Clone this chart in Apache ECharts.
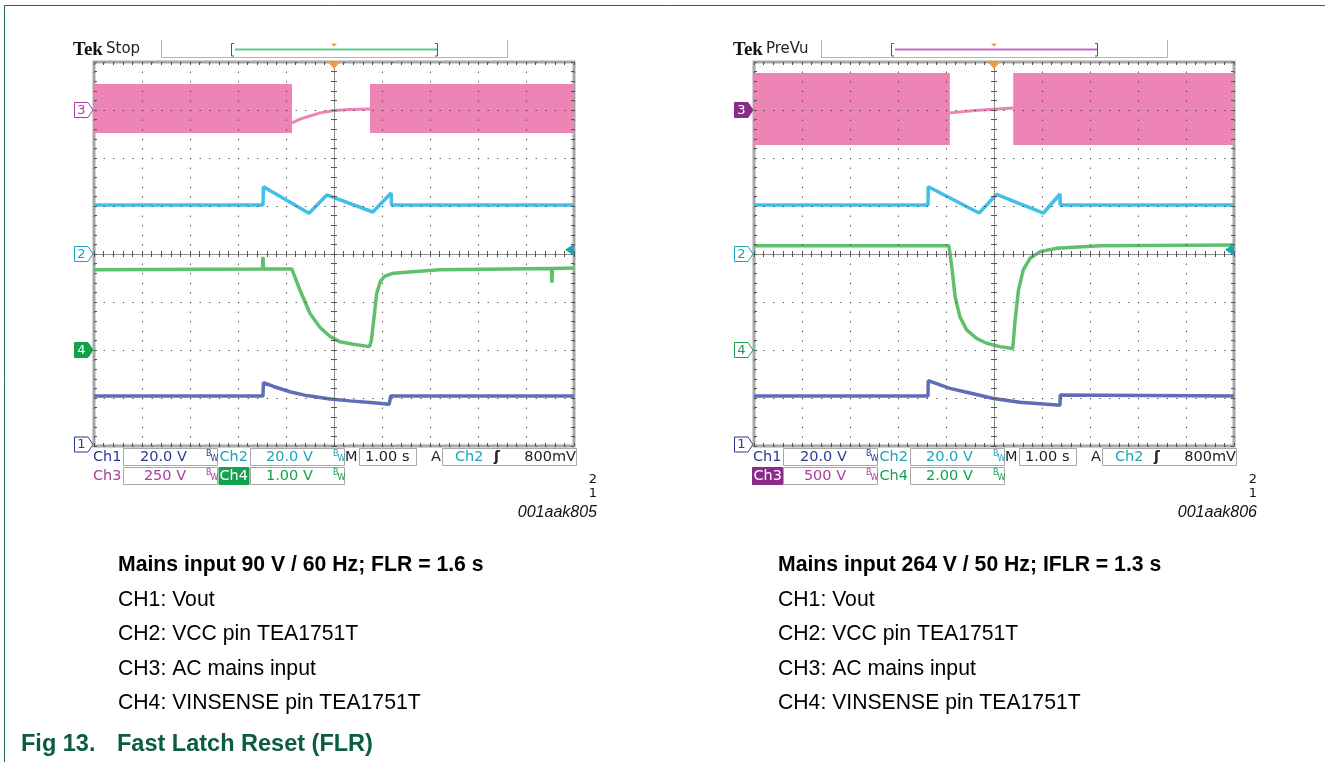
<!DOCTYPE html>
<html><head><meta charset="utf-8">
<script src="https://cdn.jsdelivr.net/npm/echarts@6/dist/echarts.min.js"></script>
<style>html,body{margin:0;padding:0;background:#fff}#c{width:1325px;height:762px}</style>
</head><body><div id="c"></div>
<script>
// ===== DATA: time in s relative to trigger (1 s/div), amplitude in divisions =====
const timeRange = [-5, 5];
const divRange = [-4, 4];
// Scope A : mains 90 V / 60 Hz
const A_ch3BandSpans = [[-5, -0.875], [0.75, 5]];
const A_ch3BandLevels = [2.52, 3.54];
const A_ch3Gap = [[-0.875,2.73],[-0.71,2.81],[-0.5,2.875],[-0.29,2.94],[0,2.99],[0.33,3.01],[0.75,3.02]];
const A_ch2 = [[-5,1.02],[-1.48,1.02],[-1.47,1.40],[-0.52,0.85],[-0.15,1.23],[0.81,0.875],[1.19,1.27],[1.20,1.02],[5,1.02]];
const A_ch4 = [[-5,-0.33],[-1.49,-0.31],[-1.48,-0.06],[-1.47,-0.31],[-0.88,-0.31],[-0.71,-0.75],[-0.5,-1.24],[-0.29,-1.53],[-0.08,-1.72],[0.125,-1.83],[0.40,-1.88],[0.74,-1.93],[0.78,-1.79],[0.89,-0.82],[0.97,-0.56],[1.06,-0.46],[1.24,-0.40],[1.65,-0.37],[2.2,-0.33],[4.53,-0.30],[4.54,-0.6],[4.55,-0.30],[5,-0.29]];
const A_ch1 = [[-5,-2.96],[-1.48,-2.96],[-1.47,-2.68],[-1.26,-2.76],[-0.92,-2.87],[-0.57,-2.95],[-0.08,-3.02],[0.33,-3.06],[0.82,-3.10],[1.15,-3.13],[1.18,-2.96],[5,-2.96]];
// Scope B : mains 264 V / 50 Hz
const B_ch3BandSpans = [[-5, -0.92], [0.40, 5]];
const B_ch3BandLevels = [2.27, 3.77];
const B_ch3Gap = [[-0.92,2.94],[-0.4,2.99],[0.40,3.04]];
const B_ch2 = [[-5,1.02],[-1.375,1.02],[-1.37,1.40],[-0.31,0.854],[0.05,1.24],[1.03,0.854],[1.375,1.25],[1.38,1.02],[5,1.02]];
const B_ch4 = [[-5,0.17],[-0.94,0.17],[-0.88,-0.26],[-0.81,-0.89],[-0.71,-1.31],[-0.57,-1.58],[-0.36,-1.76],[-0.15,-1.86],[0.125,-1.93],[0.39,-1.97],[0.44,-1.375],[0.51,-0.75],[0.61,-0.33],[0.75,-0.09],[0.96,0.05],[1.31,0.12],[2.21,0.17],[5,0.19]];
const B_ch1 = [[-5,-2.96],[-1.375,-2.96],[-1.37,-2.64],[-0.92,-2.80],[-0.57,-2.88],[-0.01,-3.01],[0.54,-3.09],[1.375,-3.15],[1.38,-2.94],[5,-2.96]];
// channel ground markers (div)
const markerChannels = ['3','2','4','1'];
const markerLevels = [3, 0, -2, -4];
const trigLevel = 0.09;
// readouts
const A_read = ['20.0 V','20.0 V','1.00 s','800mV','250 V','1.00 V'];
const B_read = ['20.0 V','20.0 V','1.00 s','800mV','500 V','2.00 V'];
const A_caption = ['Mains input 90 V / 60 Hz; FLR = 1.6 s','CH1: Vout','CH2: VCC pin TEA1751T','CH3: AC mains input','CH4: VINSENSE pin TEA1751T'];
const B_caption = ['Mains input 264 V / 50 Hz; IFLR = 1.3 s','CH1: Vout','CH2: VCC pin TEA1751T','CH3: AC mains input','CH4: VINSENSE pin TEA1751T'];

// ===== style =====
const C = {
  ch1:'#5d6db8', ch2:'#3fc0ea', ch3:'#ee84b6', ch4:'#5fbf6c',
  t1:'#2b3990', t2:'#16a6b8', t3:'#a8409f', t4:'#15a04c'
};
const GL = [94, 754], GT = 62, GW = 480, GH = 384;

function axes(g) {
  const base = {gridIndex:g, type:'value', axisLabel:{show:false}, z:5, silent:true};
  const tick = {show:true, length:3, lineStyle:{color:'#555', width:1}};
  const mt = (n)=>({show:true, splitNumber:n, length:3, lineStyle:{color:'#555', width:1}});
  const center = {show:true, onZero:true, lineStyle:{color:'#777', type:[1,1], width:1}};
  const dots = (d)=>({show:true, lineStyle:{color:'#3a3a3a', type:[1.2, d-1.2], width:1}});
  const xa = {...base, min:timeRange[0], max:timeRange[1], interval:1};
  const ya = {...base, min:divRange[0], max:divRange[1], interval:1};
  const x = [
    {...xa, position:'bottom', axisLine:center, axisTick:tick, minorTick:mt(5), splitLine:dots(9.6)},
    {...xa, position:'top', axisLine:{...center, show:false}, axisTick:tick, minorTick:mt(5), splitLine:{show:false}},
    {...xa, position:'bottom', axisLine:{show:false,onZero:false}, axisTick:{...tick, inside:true}, minorTick:mt(5), splitLine:{show:false}},
    {...xa, position:'top', axisLine:{show:false,onZero:false}, axisTick:{...tick, inside:true}, minorTick:mt(5), splitLine:{show:false}}
  ];
  const y = [
    {...ya, position:'left', axisLine:center, axisTick:tick, minorTick:mt(5), splitLine:dots(9.6)},
    {...ya, position:'right', axisLine:{...center, show:false}, axisTick:tick, minorTick:mt(5), splitLine:{show:false}},
    {...ya, position:'left', axisLine:{show:false,onZero:false}, axisTick:{...tick, inside:true}, minorTick:mt(5), splitLine:{show:false}},
    {...ya, position:'right', axisLine:{show:false,onZero:false}, axisTick:{...tick, inside:true}, minorTick:mt(5), splitLine:{show:false}}
  ];
  return {x, y};
}

function scopeSeries(g, spans, levels, gap, ch2, ch4, ch1) {
  const xi = g*4, yi = g*4;
  const common = {type:'line', xAxisIndex:xi, yAxisIndex:yi, showSymbol:false, symbol:'none', silent:true, animation:false, z:2};
  return [
    {...common, name:'CH3', data:gap, lineStyle:{color:C.ch3, width:3},
      markArea:{silent:true, itemStyle:{color:C.ch3, opacity:1},
        data: spans.map(s=>[{coord:[s[0], levels[0]]},{coord:[s[1], levels[1]]}])}},
    {...common, name:'CH2', data:ch2, lineStyle:{color:C.ch2, width:3.5}},
    {...common, name:'CH4', data:ch4, lineStyle:{color:C.ch4, width:3.5}},
    {...common, name:'CH1', data:ch1, lineStyle:{color:C.ch1, width:3.5}}
  ];
}

// ===== graphic helpers =====
const G = [];
function txt(x,y,text,font,fill,align,valign){G.push({type:'text',x:x,y:y,z:100,silent:true,style:{text:text,font:font,fill:fill,align:align||'left',verticalAlign:valign||'middle',textAlign:align||'left',textVerticalAlign:valign||'middle'}});}
function rect(x,y,w,h,fill,stroke,lw){G.push({type:'rect',z:90,silent:true,shape:{x:x,y:y,width:w,height:h},style:{fill:fill||'none',stroke:stroke||'none',lineWidth:lw||1}});}
function poly(pts,fill,stroke,lw){G.push({type:'polygon',z:95,silent:true,shape:{points:pts},style:{fill:fill||'none',stroke:stroke||'none',lineWidth:lw||1}});}
function pline(pts,stroke,lw){G.push({type:'polyline',z:95,silent:true,shape:{points:pts},style:{fill:'none',stroke:stroke,lineWidth:lw||1}});}

const RF = '14.5px "DejaVu Sans"';
function bw(x,y,color){txt(x,y-3,'B','8px "DejaVu Sans"',color);txt(x+4.5,y+2,'W','8px "DejaVu Sans"',color);}

function scopeDecor(ox, mode, brColor, read, ch3Fill, ch4Fill) {
  // header
  txt(ox+73, 50, 'Tek', 'bold 19px "Liberation Serif"', '#111');
  txt(ox+106, 49, mode, '15px "DejaVu Sans"', '#222');
  pline([[ox+161.5,40],[ox+161.5,57.5],[ox+507.5,57.5],[ox+507.5,40]], '#b4b4b4', 1);
  pline([[ox+235,49.5],[ox+437,49.5]], brColor, 2);
  pline([[ox+234,43.5],[ox+231.5,43.5],[ox+231.5,56],[ox+234,56]], '#555', 1);
  pline([[ox+435,43.5],[ox+437.5,43.5],[ox+437.5,56],[ox+435,56]], '#555', 1);
  poly([[ox+331,43.5],[ox+337,43.5],[ox+334,46.5]], '#f09a3e');
  // trigger position marker
  poly([[ox+328,62],[ox+340,62],[ox+334,69]], '#f39a3c');
  // channel markers
  const mcol = {'3':C.t3,'2':C.t2,'4':C.t4,'1':C.t1};
  markerChannels.forEach((ch,i)=>{
    const y = GT + GH/2 - markerLevels[i]*48 - (ch==='1'?1.5:0);
    const filled = (ch==='4'&&ch4Fill) || (ch==='3'&&ch3Fill);
    const fc = ch==='3' ? '#8a2b8a' : mcol[ch];
    poly([[ox+74.5,y-7.5],[ox+88,y-7.5],[ox+93,y],[ox+88,y+7.5],[ox+74.5,y+7.5]], filled?fc:'#fff', filled?fc:mcol[ch], 1);
    txt(ox+81.5, y+0.5, ch, '13px "DejaVu Sans"', filled?'#fff':mcol[ch], 'center');
  });
  // trigger level arrow (right edge)
  const ty = GT + GH/2 - trigLevel*48;
  poly([[ox+565,ty],[ox+574,ty-6],[ox+574,ty+6]], '#12a9b8');
  // readouts row 1
  const r1 = 457, r2 = 476;
  rect(ox+123.5,448.5,94,17,'#fff','#a8a8a8');
  rect(ox+250.5,448.5,94,17,'#fff','#a8a8a8');
  rect(ox+359.5,448.5,57,17,'#fff','#a8a8a8');
  rect(ox+442.5,448.5,134,17,'#fff','#a8a8a8');
  rect(ox+123.5,467.5,94,17,'#fff','#a8a8a8');
  rect(ox+250.5,467.5,94,17,'#fff','#a8a8a8');
  txt(ox+93, r1, 'Ch1', RF, C.t1);
  txt(ox+140, r1, read[0], RF, C.t1);
  bw(ox+206, r1, C.t1);
  txt(ox+219.5, r1, 'Ch2', RF, C.t2);
  txt(ox+266, r1, read[1], RF, C.t2);
  bw(ox+333, r1, C.t2);
  txt(ox+345, r1, 'M', RF, '#222');
  txt(ox+365, r1, read[2], RF, '#222');
  txt(ox+431, r1, 'A', RF, '#222');
  txt(ox+455, r1, 'Ch2', RF, C.t2);
  txt(ox+494, r1, 'ʃ', 'bold 14px "DejaVu Sans"', '#222');
  txt(ox+576, r1, read[3], RF, '#222', 'right');
  // row 2
  if (ch3Fill) { rect(ox+92.5,467.5,30,17,'#8a2b8a','#8a2b8a'); txt(ox+93.5, r2, 'Ch3', RF, '#fff'); }
  else txt(ox+93, r2, 'Ch3', RF, C.t3);
  txt(ox+165, r2, read[4], RF, C.t3, 'center');
  bw(ox+206, r2, C.t3);
  if (ch4Fill) { rect(ox+219,467.5,30,17,'#14a04e','#14a04e'); txt(ox+219.5, r2, 'Ch4', RF, '#fff'); }
  else txt(ox+219.5, r2, 'Ch4', RF, C.t4);
  txt(ox+266, r2, read[5], RF, C.t4);
  bw(ox+333, r2, C.t4);
  // side numbers and id
  txt(ox+597, 480, '2', '13px "DejaVu Sans"', '#111', 'right');
  txt(ox+597, 494, '1', '13px "DejaVu Sans"', '#111', 'right');
  txt(ox+597, 513, ox===0?'001aak805':'001aak806', 'italic 16px "Liberation Sans"', '#111', 'right');
}

scopeDecor(0, 'Stop', '#5cc98e', A_read, false, true);
scopeDecor(660, 'PreVu', '#c468c4', B_read, true, false);

// captions
const capY = [565, 600, 634.5, 669, 703.5];
[A_caption, B_caption].forEach((cap, k)=>{
  const x = k===0 ? 118 : 778;
  cap.forEach((s,i)=>txt(x, capY[i], s, (i===0?'bold ':'')+'21.2px "Liberation Sans"', '#000'));
});
txt(21, 745, 'Fig 13.', 'bold 23.5px "Liberation Sans"', '#0b5c40');
txt(117, 745, 'Fast Latch Reset (FLR)', 'bold 23.5px "Liberation Sans"', '#0b5c40');
// page frame
pline([[4.5,762],[4.5,5.5],[1325,5.5]], '#24694f', 1);

// ===== chart =====
const aA = axes(0), aB = axes(1);
const chart = echarts.init(document.getElementById('c'), null, {renderer:'canvas'});
chart.setOption({
  animation:false,
  backgroundColor:'#fff',
  grid:[
    {left:GL[0], top:GT, width:GW, height:GH, show:true, borderColor:'#a8a8a8', borderWidth:3, backgroundColor:'#fff', containLabel:false, outerBoundsMode:'none'},
    {left:GL[1], top:GT, width:GW, height:GH, show:true, borderColor:'#a8a8a8', borderWidth:3, backgroundColor:'#fff', containLabel:false, outerBoundsMode:'none'}
  ],
  xAxis: aA.x.concat(aB.x),
  yAxis: aA.y.concat(aB.y),
  series: scopeSeries(0, A_ch3BandSpans, A_ch3BandLevels, A_ch3Gap, A_ch2, A_ch4, A_ch1)
    .concat(scopeSeries(1, B_ch3BandSpans, B_ch3BandLevels, B_ch3Gap, B_ch2, B_ch4, B_ch1)),
  graphic:{elements:G}
});
</script></body></html>
